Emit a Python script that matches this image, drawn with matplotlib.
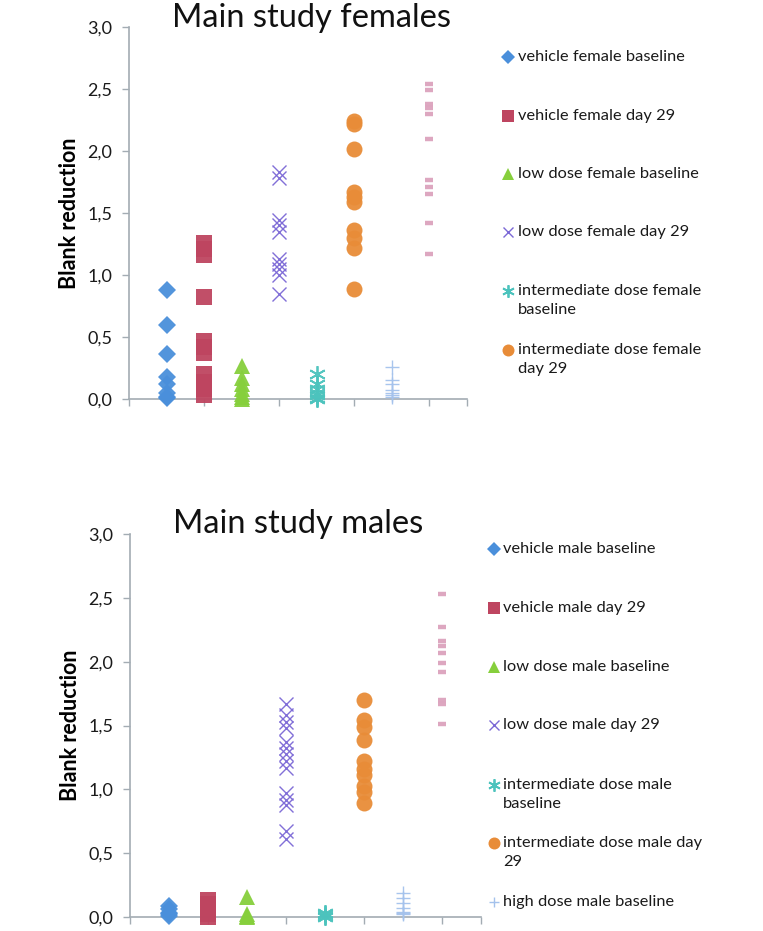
import matplotlib
matplotlib.use('Agg')
import matplotlib.pyplot as plt
from matplotlib.lines import Line2D
from matplotlib.ticker import FuncFormatter

plt.rcParams['font.family'] = ['Lato', 'DejaVu Sans']

# --- data: group position on x axis ---
groups = [1, 2, 3, 4, 5, 6, 7, 8]

fem_vehicle_base = [0.88, 0.60, 0.36, 0.18, 0.12, 0.05, 0.02, 0.01]
fem_vehicle_d29 = [1.26, 1.21, 1.16, 0.82, 0.47, 0.42, 0.37, 0.20, 0.14, 0.08, 0.03]
fem_low_base = [0.27, 0.17, 0.12, 0.08, 0.04, 0.02, 0.0]
fem_low_d29 = [1.83, 1.78, 1.44, 1.40, 1.35, 1.13, 1.09, 1.05, 1.00, 0.85]
fem_int_base = [0.20, 0.12, 0.08, 0.05, 0.03, 0.01, 0.0]
fem_int_d29 = [2.24, 2.22, 2.02, 1.67, 1.63, 1.59, 1.36, 1.30, 1.22, 0.89]
fem_high_base = [0.26, 0.15, 0.12, 0.07, 0.05, 0.03, 0.02]
fem_high_d29 = [2.54, 2.49, 2.38, 2.35, 2.30, 2.10, 1.77, 1.71, 1.65, 1.42, 1.17]

male_vehicle_base = [0.09, 0.06, 0.03, 0.02, 0.01]
male_vehicle_d29 = [0.13, 0.10, 0.07, 0.04, 0.02, 0.0]
male_low_base = [0.16, 0.02, 0.01, 0.0]
male_low_d29 = [1.67, 1.58, 1.53, 1.48, 1.37, 1.32, 1.28, 1.22, 1.17, 0.97, 0.92, 0.88, 0.67, 0.61]
male_int_base = [0.03, 0.02, 0.01, 0.0]
male_int_d29 = [1.70, 1.54, 1.49, 1.39, 1.22, 1.16, 1.11, 1.03, 0.98, 0.89]
male_high_base = [0.19, 0.15, 0.11, 0.07, 0.04, 0.03, 0.02]
male_high_d29 = [2.53, 2.27, 2.16, 2.12, 2.07, 1.99, 1.92, 1.70, 1.67, 1.51]

female_series = [fem_vehicle_base, fem_vehicle_d29, fem_low_base, fem_low_d29,
                 fem_int_base, fem_int_d29, fem_high_base, fem_high_d29]
male_series = [male_vehicle_base, male_vehicle_d29, male_low_base, male_low_d29,
               male_int_base, male_int_d29, male_high_base, male_high_d29]

female_labels = ['vehicle female baseline', 'vehicle female day 29',
                 'low dose female baseline', 'low dose female day 29',
                 'intermediate dose female\nbaseline',
                 'intermediate dose female\nday 29']
male_labels = ['vehicle male baseline', 'vehicle male day 29',
               'low dose male baseline', 'low dose male day 29',
               'intermediate dose male\nbaseline',
               'intermediate dose male day\n29',
               'high dose male baseline']

# Excel-like marker styles per series
styles = [
    dict(marker='D', color='#4a8fdb', ms=9.5, mew=0),
    dict(marker='s', color='#be4560', ms=11, mew=0),
    dict(marker='^', color='#86cf3c', ms=12, mew=0),
    dict(marker='x', color='#7b68d6', ms=10, mew=1.0),
    dict(marker=(6, 2, 0), color='#4cc3bd', ms=12, mew=1.3),
    dict(marker='o', color='#e88c38', ms=11.5, mew=0),
    dict(marker='+', color='#a4c2ec', ms=10.5, mew=1.0),
    dict(marker='_', color='#dca2bd', ms=6, mew=3.2),
]

AXIS_GRAY = '#a3acb3'


def draw_panel(ax, series):
    for (vals, st, gx) in zip(series, styles, groups):
        ax.plot([gx] * len(vals), vals, linestyle='none', marker=st['marker'],
                color=st['color'], markersize=st['ms'], markeredgewidth=st['mew'],
                alpha=0.95, clip_on=False, zorder=3)
    ax.set_xlim(0, 9)
    ax.set_ylim(0, 3)
    ax.set_xticks([0, 2, 4, 6, 8, 9])
    ax.set_xticklabels([])
    ax.set_yticks([0, 0.5, 1.0, 1.5, 2.0, 2.5, 3.0])
    ax.yaxis.set_major_formatter(FuncFormatter(lambda v, p: f'{v:.1f}'.replace('.', ',')))
    ax.tick_params(axis='y', length=5, width=1, color=AXIS_GRAY, labelsize=13,
                   labelcolor='#1a1a1a', pad=7)
    ax.tick_params(axis='x', length=5, width=1, color=AXIS_GRAY)
    for s in ('top', 'right'):
        ax.spines[s].set_visible(False)
    for s in ('left', 'bottom'):
        ax.spines[s].set_color(AXIS_GRAY)
        ax.spines[s].set_linewidth(1.2)
    ax.set_ylabel('Blank reduction', fontsize=15.5, fontweight='bold', labelpad=5)


def draw_legend(fig, labels, y_px, mx_px, tx_px):
    W, H = fig.get_size_inches() * fig.dpi
    for lab, st, y in zip(labels, styles, y_px):
        fig.add_artist(Line2D([mx_px / W], [1 - y / H], transform=fig.transFigure,
                              linestyle='none', marker=st['marker'], color=st['color'],
                              markersize=st['ms'] * 0.75,
                              markeredgewidth=st['mew']))
        fig.text(tx_px / W, 1 - (y - 7) / H, lab, fontsize=11.8, va='top', ha='left',
                 linespacing=1.5, color='#1a1a1a')


fig = plt.figure(figsize=(7.63, 9.31), dpi=100)
W, H = 763, 931

ax_f = fig.add_axes([129 / W, 1 - 399 / H, 338 / W, 372 / H])
ax_m = fig.add_axes([130 / W, 1 - 917 / H, 351 / W, 383 / H])

draw_panel(ax_f, female_series)
draw_panel(ax_m, male_series)

fig.text(312 / W, 1 - 27 / H, 'Main study females', fontsize=23.5, ha='center',
         va='baseline', color='#111111')
fig.text(298 / W, 1 - 533 / H, 'Main study males', fontsize=23.5, ha='center',
         va='baseline', color='#111111')

draw_legend(fig, female_labels, [57, 116, 174, 232, 291, 350], 508, 518)
draw_legend(fig, male_labels, [549, 608, 667, 725, 785, 843, 902], 494, 503)

fig.savefig('out.png', dpi=100)
plt.close(fig)
